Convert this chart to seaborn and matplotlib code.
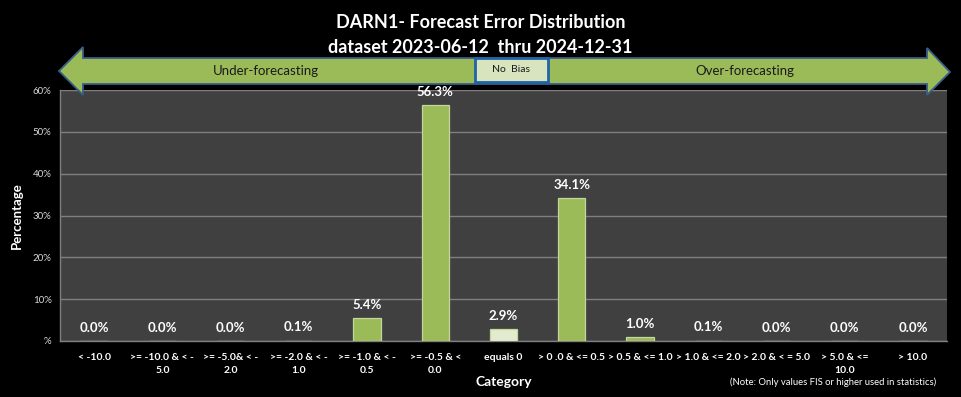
"""
DARN1 forecast error distribution (bar chart with bias arrow)
"""

import numpy as np
import pandas as pd
import matplotlib
matplotlib.use("Agg")
import matplotlib.pyplot as plt
from matplotlib.patches import Polygon, Rectangle
import seaborn as sns

# data
categories = ["< -10.0", ">= -10.0 & < -\n5.0", ">= -5.0& < -\n2.0",
              ">= -2.0 & < -\n1.0", ">= -1.0 & < -\n0.5", ">= -0.5 & <\n0.0",
              "equals 0", "> 0 .0 & <= 0.5", "> 0.5 & <= 1.0",
              "> 1.0 & <= 2.0", "> 2.0 & < = 5.0", "> 5.0 & <=\n10.0",
              "> 10.0"]
percent = [0.0, 0.0, 0.0, 0.1, 5.4, 56.3, 2.9, 34.1, 1.0, 0.1, 0.0, 0.0, 0.0]
y_ticks = [0, 10, 20, 30, 40, 50, 60]
y_ticklabels = ["%", "10%", "20%", "30%", "40%", "50%", "60%"]

title = "DARN1- Forecast Error Distribution\ndataset 2023-06-12  thru 2024-12-31"
note = "(Note: Only values FIS or higher used in statistics)"

# colours
GREEN = "#9BBB59"
LIGHT = "#E2EBCF"
PLOT_BG = "#404040"
GRID = "#7F7F7F"
FONT = ["Lato", "DejaVu Sans"]

W, H = 961, 397


def fx(px):
    return px / W


def fy(py):
    return 1 - py / H


def main():
    sns.set_style("dark")
    plt.rcParams["font.family"] = FONT

    df = pd.DataFrame({"category": categories, "percent": percent})
    colors = {c: (LIGHT if c == "equals 0" else GREEN) for c in categories}

    fig = plt.figure(figsize=(W / 100, H / 100), dpi=100, facecolor="black")
    ax = fig.add_axes([fx(60), fy(341), fx(947) - fx(60), fy(90) - fy(341)])
    ax.set_facecolor(PLOT_BG)

    sns.barplot(data=df, x="category", y="percent", hue="category",
                palette=colors, legend=False, width=0.4, ax=ax,
                saturation=1, edgecolor="#C4D79B", linewidth=0.9, zorder=3)

    # value labels
    for i, v in enumerate(percent):
        ax.annotate(f"{v:.1f}%", (i, v), xytext=(0, 9.5),
                    textcoords="offset points", ha="center", va="center",
                    color="white", fontsize=9.5, fontweight="bold")

    ax.set_xlim(-0.5, len(categories) - 0.5)
    ax.set_ylim(0, 60)
    ax.set_yticks(y_ticks)
    ax.set_yticklabels(y_ticklabels, color="#D9D9D9", fontsize=7)
    ax.yaxis.grid(True, color=GRID, linewidth=1.0, zorder=0)
    ax.xaxis.grid(False)
    ax.set_axisbelow(True)

    ax.set_xticks(range(len(categories)))
    ax.set_xticklabels(categories, color="white", fontsize=7.5,
                       fontweight="bold", linespacing=1.5)
    ax.set_xticks(np.arange(-0.5, len(categories), 1), minor=True)
    ax.tick_params(axis="x", which="major", length=0, pad=9)
    ax.tick_params(axis="x", which="minor", length=5, color=GRID, width=1)
    ax.tick_params(axis="y", length=4, color=GRID, width=1, pad=2)

    for side in ["top", "right"]:
        ax.spines[side].set_visible(False)
    for side in ["left", "bottom"]:
        ax.spines[side].set_color(GRID)
        ax.spines[side].set_linewidth(1.0)

    ax.set_xlabel("Category", color="white", fontsize=10, fontweight="bold",
                  labelpad=1)
    ax.set_ylabel("Percentage", color="white", fontsize=9.5, fontweight="bold",
                  labelpad=7)

    # title
    fig.text(0.5, fy(35), title, ha="center", va="center", color="white",
             fontsize=13, fontweight="bold", linespacing=1.55)

    # double-headed bias arrow
    pts = [(59, 71), (83, 47), (83, 58), (927, 58), (927, 48), (950, 72),
           (927, 95), (927, 84), (83, 84), (83, 95)]
    arrow = Polygon([(fx(x), fy(y)) for x, y in pts], closed=True,
                    transform=fig.transFigure, facecolor=GREEN,
                    edgecolor="#385D8A", linewidth=1.3, zorder=5)
    fig.patches.append(arrow)
    box = Rectangle((fx(475), fy(82)), fx(548) - fx(475), fy(58) - fy(82),
                    transform=fig.transFigure, facecolor="#D7E4BD",
                    edgecolor="#1F63A8", linewidth=2, zorder=6)
    fig.patches.append(box)
    fig.text(fx(266), fy(71), "Under-forecasting", ha="center", va="center",
             fontsize=9.5, color="#1A1A1A", zorder=7)
    fig.text(fx(745), fy(71), "Over-forecasting", ha="center", va="center",
             fontsize=9.5, color="#1A1A1A", zorder=7)
    fig.text(fx(511), fy(70), "No  Bias", ha="center", va="center",
             fontsize=7.5, color="#1A1A1A", zorder=7)

    # note
    fig.text(fx(936), fy(382), note, ha="right", va="center", fontsize=6.8,
             color="white")

    fig.savefig("out.png", dpi=100, facecolor="black")


if __name__ == "__main__":
    main()
